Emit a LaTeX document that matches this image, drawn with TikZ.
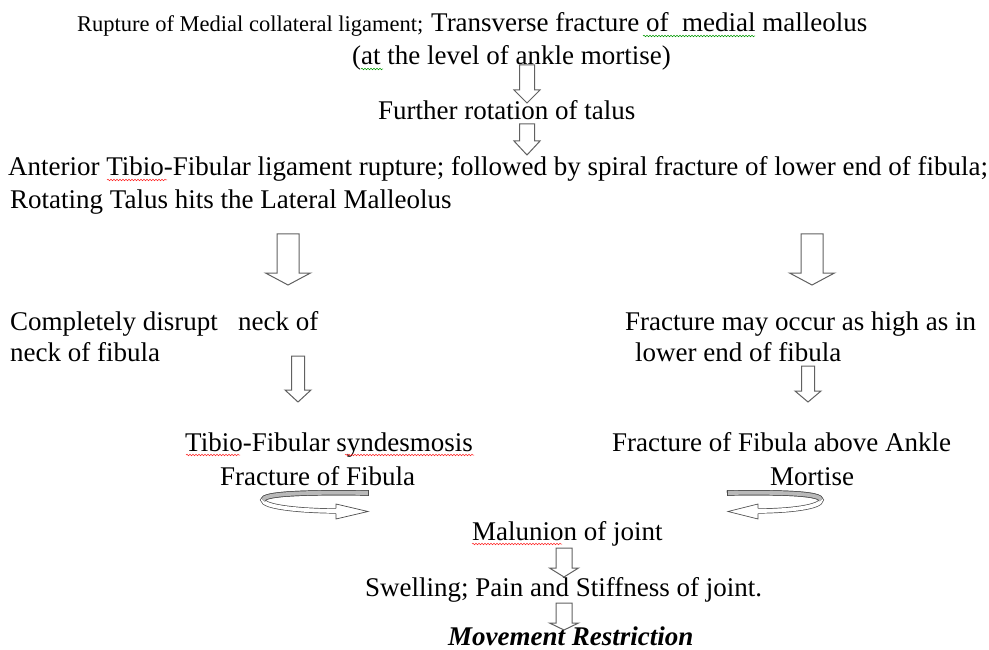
\documentclass[tikz,border=0pt]{standalone}
\usepackage{fontspec}
\setmainfont{Liberation Serif}
\usetikzlibrary{decorations.pathmorphing}
\newcommand\blockarrow[6]{% cx, ytop, yhead, ytip, half shaft, half head
  \draw[arrowline] (#1-#5,#2) -- (#1+#5,#2) -- (#1+#5,#3) -- (#1+#6,#3) -- (#1,#4) -- (#1-#6,#3) -- (#1-#5,#3) -- cycle;}
\begin{document}
\begin{tikzpicture}[x=1pt,y=-1pt,
  txt/.style={anchor=base west, inner sep=0pt, font=\fontsize{27}{31}\selectfont},
  smalltxt/.style={anchor=base west, inner sep=0pt, font=\fontsize{22.5}{26}\selectfont},
  arrowline/.style={draw=black!62, fill=white, line width=1pt, line join=miter},
  band/.style={draw=black!70, line width=0.7pt, double distance=3.8pt},
  redwave/.style={draw=red!85, line width=0.5pt, decorate, decoration={snake, amplitude=0.8pt, segment length=3pt}},
  greenwave/.style={draw=green!60!black, line width=0.5pt, decorate, decoration={snake, amplitude=0.8pt, segment length=3pt}}]
\useasboundingbox (0,0) rectangle (989,650);
\fill[white] (0,0) rectangle (989,650);
% texts
\node[smalltxt] (t1a) at (77,32) {Rupture of Medial collateral ligament;};
\node[txt] (t1b) at (431,32) {Transverse fracture of\ \ medial malleolus};
\node[txt] (t2) at (352,65) {(at the level of ankle mortise)};
\node[txt] (t3) at (378,120) {Further rotation of talus};
\node[txt] (t4) at (8,176) {Anterior Tibio-Fibular ligament rupture; followed by spiral fracture of lower end of fibula;};
\node[txt] (t5) at (10,208) {Rotating Talus hits the Lateral Malleolus};
\node[txt] (l6a) at (10,330) {Completely disrupt\ \ \ neck of};
\node[txt] (l6b) at (10,361) {neck of fibula};
\node[txt] (r6a) at (625,330) {Fracture may occur as high as in};
\node[txt] (r6b) at (635,361) {lower end of fibula};
\node[txt] (l7a) at (185,451) {Tibio-Fibular syndesmosis};
\node[txt] (l7b) at (220,485) {Fracture of Fibula};
\node[txt] (r7a) at (612,451) {Fracture of Fibula above Ankle};
\node[txt] (r7b) at (770,485) {Mortise};
\node[txt] (t8) at (472,540) {Malunion of joint};
\node[txt] (t9) at (365,596) {Swelling; Pain and Stiffness of joint.};
\node[txt, font=\fontsize{27}{31}\selectfont\bfseries\itshape] (t10) at (448,645) {Movement Restriction};
% block arrows
\blockarrow{527}{65}{90}{103}{7.5}{13}
\blockarrow{527}{124}{141}{155}{7.5}{13}
\blockarrow{288}{234}{273}{285}{11}{22.5}
\blockarrow{812}{234}{273}{285}{11}{22.5}
\blockarrow{298}{356}{390}{402}{6.5}{13}
\blockarrow{808}{366}{391}{402}{6.5}{13}
\blockarrow{564}{548}{568}{577}{8}{14.5}
\blockarrow{564}{603}{623}{630}{8}{14.5}
% left curl
\draw[band, double=white] (368,493) .. controls (300,492) and (263,494) .. (263,500) .. controls (263,507) and (300,511) .. (340,511);
\draw[band, double=gray!55] (368,493) .. controls (300,492) and (263,494) .. (263,500);
\draw[draw=black!70, line width=0.7pt] (368,490.3) -- (368,495.7);
\draw[arrowline, line width=0.7pt, draw=black!70] (336,508.4) -- (336,504) -- (368,511.5) -- (336,519) -- (336,513.6);
% right curl
\draw[band, double=white] (727,493) .. controls (790,492) and (821,494) .. (821,500) .. controls (821,507) and (790,511) .. (755,511);
\draw[band, double=gray!55] (727,493) .. controls (790,492) and (821,494) .. (821,500);
\draw[draw=black!70, line width=0.7pt] (727,490.3) -- (727,495.7);
\draw[arrowline, line width=0.7pt, draw=black!70] (758,508.4) -- (758,504) -- (728,511.5) -- (758,519) -- (758,513.6);
% spell-check underlines
\draw[greenwave] (643,36) -- (755,36);
\draw[greenwave] (361,69) -- (383,69);
\draw[redwave] (107,180) -- (167,180);
\draw[redwave] (186,455) -- (240,455);
\draw[redwave] (345,455) -- (474,455);
\draw[redwave] (472,544) -- (562,544);
\end{tikzpicture}
\end{document}
